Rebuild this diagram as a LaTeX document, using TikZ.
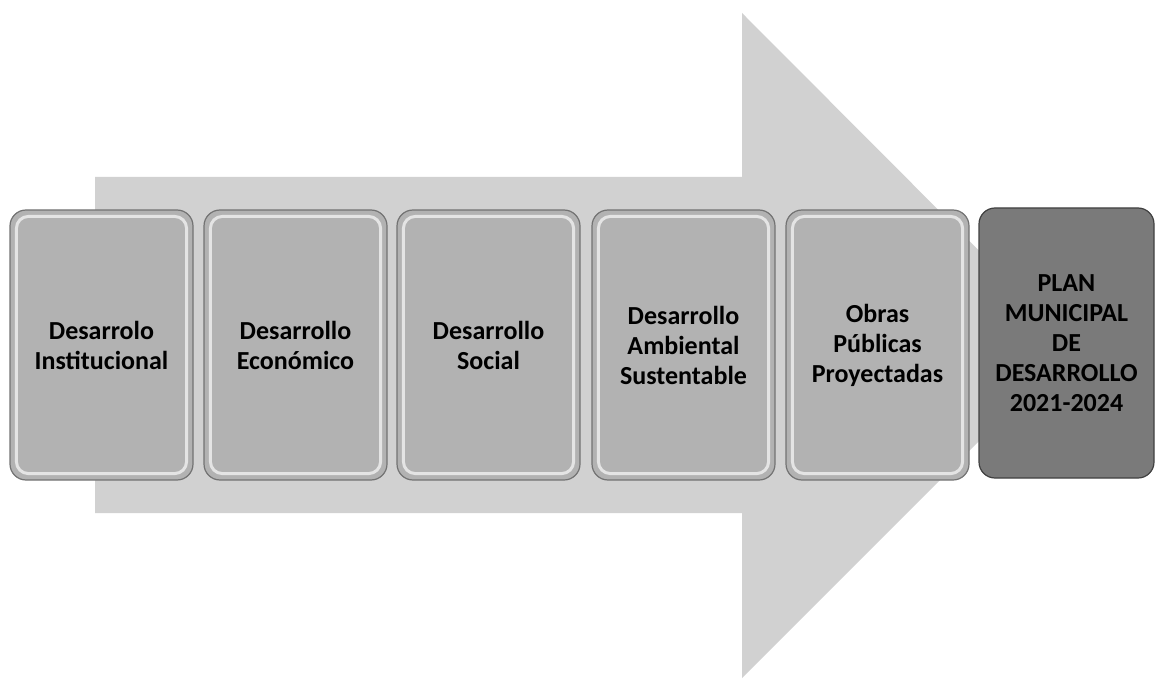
\documentclass[tikz,border=0pt]{standalone}
\usepackage{fontspec}
\setmainfont{Carlito}
\usetikzlibrary{positioning}

\begin{document}
\begin{tikzpicture}
  			[x=1pt,y=-1pt,
  			 every node/.style={rounded corners=16pt, draw=black!55, line width=1.2pt,
  			   fill=black!30, minimum width=183pt, minimum height=270pt,
  			   align=center, font=\bfseries\fontsize{26}{30}\selectfont},
  			 last/.style={fill=black!52, draw=black!75, minimum width=175pt},
  			 hilite/.style={draw=white, line width=3pt, rounded corners=12pt, opacity=.65}]
  			\useasboundingbox (0,0) rectangle (1156,679);
  			% big arrow behind the boxes
  			\fill[black!18] (95,177) -- (742,177) -- (742,13) -- (1074,346)
  			  -- (742,678) -- (742,513) -- (95,513) -- cycle;

  			\node (n1) at (101.5,345)  {Desarrolo\\Institucional};
  			\node (n2) at (295.5,345)  {Desarrollo\\Económico};
  			\node (n3) at (488.5,345)  {Desarrollo\\Social};
  			\node (n4) at (683.5,345)  {Desarrollo\\Ambiental\\Sustentable};
  			\node (n5) at (877.5,345)  {Obras\\Públicas\\Proyectadas};
  			\node[last] (n6) at (1066.5,343) {PLAN\\MUNICIPAL\\DE\\DESARROLLO\\2021-2024};

  			\foreach \b in {n1,n2,n3,n4,n5}
  			\draw[hilite] ([shift={(7pt,-7pt)}]\b.north west) rectangle ([shift={(-7pt,7pt)}]\b.south east);
\end{tikzpicture}
\end{document}
